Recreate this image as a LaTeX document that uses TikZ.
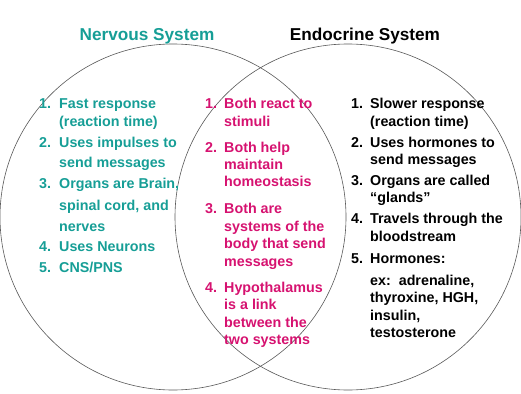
\documentclass[tikz,border=0pt]{standalone}
\usepackage{fontspec}
\setmainfont{Liberation Sans}
\definecolor{nervous}{RGB}{22,158,150}
\definecolor{both}{RGB}{214,18,112}

\begin{document}
\begin{tikzpicture}[
        x=1pt, y=-1pt,
        ring/.style={draw=black!65, line width=0.6pt},
        heading/.style={font=\fontsize{17.2}{20}\selectfont\bfseries, inner sep=0pt, anchor=base},
        entry/.style={font=\fontsize{14.3}{17}\selectfont\bfseries, inner sep=0pt, anchor=base west}
      ]
      \useasboundingbox (0,0) rectangle (521,393);

      % the two overlapping sets
      \coordinate (ns) at (173,217);
      \coordinate (es) at (348,217);
      \draw[ring] (ns) circle[radius=173pt];
      \draw[ring] (es) circle[radius=173pt];

      \node[heading, text=nervous] (ns-title) at (147,40.5) {Nervous System};
      \node[heading] (es-title) at (365,40.5) {Endocrine System};

      % nervous system only
      \foreach \n/\y in {1/108, 2/147, 3/188, 4/251, 5/272}
        \node[entry, text=nervous] (ns-num-\n) at (39,\y) {\n.};
      \foreach \y/\t [count=\i] in {108/Fast response, 126/(reaction time), 147/Uses impulses to,
          167/send messages, 188/{Organs are Brain,}, 210/{spinal cord, and}, 231/nerves,
          251/Uses Neurons, 272/{CNS/PNS}}
        \node[entry, text=nervous] (ns-\i) at (59,\y) {\t};

      % shared by both
      \foreach \n/\y in {1/108, 2/152, 3/213, 4/292}
        \node[entry, text=both] (both-num-\n) at (205,\y) {\n.};
      \foreach \y/\t [count=\i] in {108/Both react to, 126/stimuli, 152/Both help, 169/maintain,
          186/homeostasis, 213/Both are, 231/systems of the, 248/body that send, 266/messages,
          292/Hypothalamus, 309/is a link, 327/between the, 344/two systems}
        \node[entry, text=both] (both-\i) at (224,\y) {\t};

      % endocrine system only
      \foreach \n/\y in {1/108, 2/147, 3/185, 4/223, 5/263}
        \node[entry] (es-num-\n) at (351,\y) {\n.};
      \foreach \y/\t [count=\i] in {108/Slower response, 126/(reaction time), 147/Uses hormones to,
          164/send messages, 185/Organs are called, 202/“glands”, 223/Travels through the,
          241/bloodstream, 263/Hormones:, 285/{ex:\ \ adrenaline,}, 302/{thyroxine, HGH,},
          320/{insulin,}, 337/testosterone}
        \node[entry] (es-\i) at (370,\y) {\t};
    \end{tikzpicture}
\end{document}
